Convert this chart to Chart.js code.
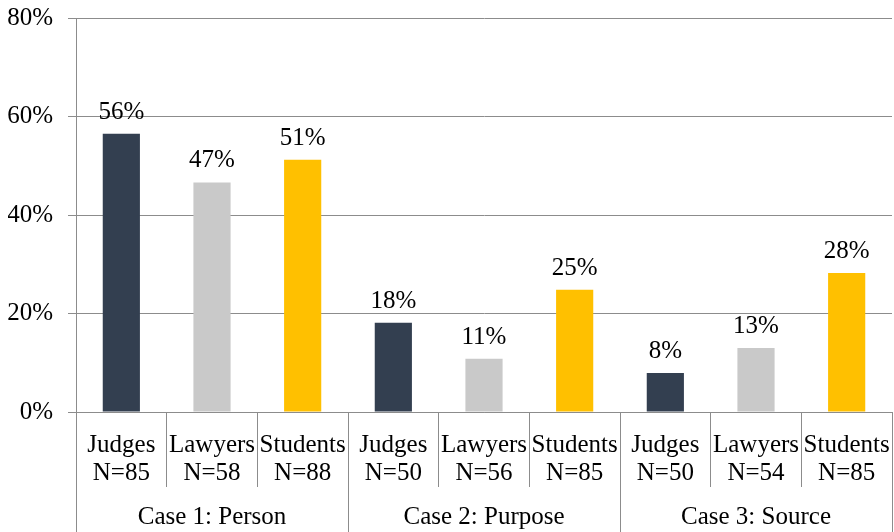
<!DOCTYPE html>
<html>
<head>
<meta charset="utf-8">
<script src="https://cdn.jsdelivr.net/npm/chart.js@4/dist/chart.umd.min.js"></script>
<style>
html,body{margin:0;padding:0;background:#fff;}
#wrap{width:894px;height:532px;position:relative;}
</style>
</head>
<body>
<div id="wrap"><canvas id="c" width="894" height="532"></canvas></div>
<script>
const groups = ["Case 1: Person", "Case 2: Purpose", "Case 3: Source"];
const roles = ["Judges", "Lawyers", "Students"];
const sampleSizes = ["N=85", "N=58", "N=88", "N=50", "N=56", "N=85", "N=50", "N=54", "N=85"];
const values = [56.5, 46.6, 51.2, 18.1, 10.8, 24.8, 7.9, 13.0, 28.2];
const valueLabels = ["56%", "47%", "51%", "18%", "11%", "25%", "8%", "13%", "28%"];
const roleColors = ["#333F50", "#C9C9C9", "#FFC000"];
const yTicks = [0, 20, 40, 60, 80];

const labels = sampleSizes.map((n, i) => [roles[i % 3], n]);
const barColors = values.map((v, i) => roleColors[i % 3]);

const FONT = "'Liberation Serif', 'Times New Roman', serif";
const GRID = "#8c8c8c";

const overlay = {
  id: 'overlay',
  afterDraw(chart) {
    const ctx = chart.ctx;
    const xs = chart.scales.x;
    const meta = chart.getDatasetMeta(0);
    ctx.save();
    ctx.font = "25px " + FONT;
    ctx.fillStyle = "#000";
    ctx.textAlign = "center";
    ctx.textBaseline = "alphabetic";
    meta.data.forEach((bar, i) => {
      ctx.fillText(valueLabels[i], bar.x, bar.y - 15);
    });
    const n = labels.length;
    const bound = (k) => {
      if (k <= 0) return xs.left;
      if (k >= n) return xs.right;
      return (xs.getPixelForValue(k - 1) + xs.getPixelForValue(k)) / 2;
    };
    ctx.strokeStyle = GRID;
    ctx.lineWidth = 1;
    const top = chart.chartArea.bottom;
    for (let g = 0; g <= groups.length; g++) {
      const x = Math.round(bound(g * 3)) + 0.5;
      ctx.beginPath();
      ctx.moveTo(x, top);
      ctx.lineTo(x, chart.height);
      ctx.stroke();
    }
    groups.forEach((name, g) => {
      const cx = (bound(g * 3) + bound(g * 3 + 3)) / 2;
      ctx.fillText(name, cx, top + 112);
    });
    ctx.restore();
  }
};

new Chart(document.getElementById('c'), {
  type: 'bar',
  data: {
    labels: labels,
    datasets: [{
      data: values,
      backgroundColor: barColors,
      borderWidth: 0,
      categoryPercentage: 1.0,
      barPercentage: 0.41
    }]
  },
  options: {
    responsive: false,
    animation: false,
    devicePixelRatio: 1,
    layout: { padding: { top: 18, right: 2, left: 8, bottom: 0 } },
    plugins: { legend: { display: false }, tooltip: { enabled: false } },
    scales: {
      x: {
        type: 'category',
        offset: true,
        grid: {
          offset: true,
          drawOnChartArea: false,
          drawTicks: true,
          tickLength: 75,
          color: GRID,
          lineWidth: 1
        },
        border: { display: true, color: GRID, width: 1 },
        ticks: {
          font: { family: FONT, size: 25, lineHeight: 1.1 },
          color: "#000",
          padding: -55,
          maxRotation: 0,
          autoSkip: false
        },
        afterFit(scale) { scale.height = 120; scale.paddingLeft = 0; scale.paddingRight = 0; }
      },
      y: {
        min: 0,
        max: 80,
        afterBuildTicks(scale) { scale.ticks = yTicks.map(v => ({ value: v })); },
        grid: {
          color: GRID,
          lineWidth: 1,
          tickLength: 8,
          drawTicks: true
        },
        border: { display: true, color: GRID, width: 1 },
        ticks: {
          font: { family: FONT, size: 25 },
          color: "#000",
          padding: 15,
          callback: (v) => v + "%"
        },
        afterFit(scale) { scale.width = 68; scale.paddingTop = 0; scale.paddingBottom = 0; }
      }
    }
  },
  plugins: [overlay]
});
</script>
</body>
</html>
